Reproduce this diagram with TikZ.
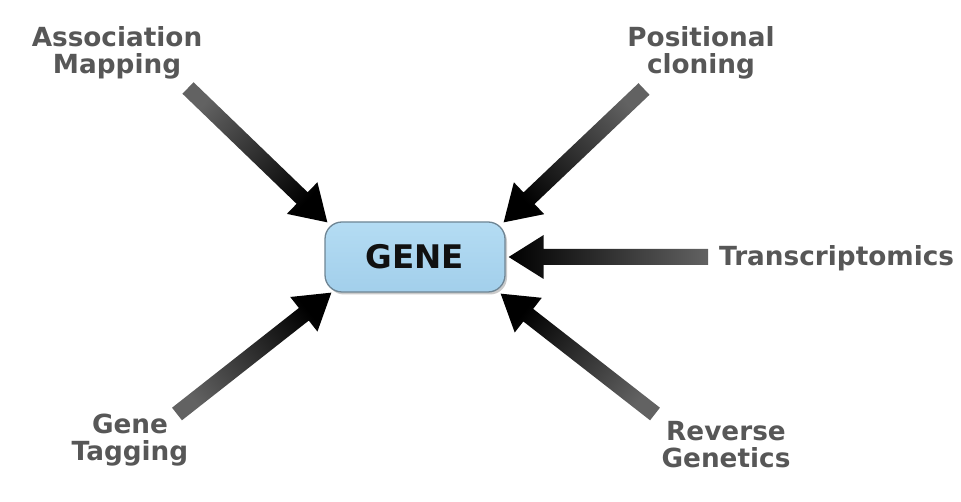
\documentclass[tikz,border=0pt]{standalone}
\usepackage{fontspec}
\setmainfont{DejaVu Sans}
\usetikzlibrary{calc,shadows}
\definecolor{labgray}{HTML}{575757}
\definecolor{genetop}{HTML}{B4DCF3}
\definecolor{genebot}{HTML}{A2CFEB}
\definecolor{geneedge}{HTML}{6E8594}
\definecolor{tailgray}{HTML}{626262}
\definecolor{genetext}{HTML}{111111}
\tikzset{
  lab/.style={font=\fontsize{26.3}{26.8}\selectfont\bfseries, text=labgray, align=center, inner sep=0pt},
  genebox/.style={draw=geneedge, line width=1.3pt, top color=genetop, bottom color=genebot,
    rounded corners=17pt, minimum width=180pt, minimum height=70pt, inner sep=0pt,
    font=\fontsize{32.5}{34}\selectfont\bfseries, text=genetext,
    drop shadow={shadow xshift=2pt, shadow yshift=-2.5pt, opacity=0.35, fill=black!60}},
}
% #1 tail, #2 tip, #3 shading angle
\newcommand\fatarrow[3]{%
  \coordinate (fab) at ($(#2)!35pt!(#1)$);
  \path[top color=tailgray, bottom color=black, shading angle=#3]
    ($(#1)!8pt!90:(#2)$) -- ($(fab)!8pt!90:(#2)$) -- ($(fab)!22pt!90:(#2)$) -- (#2)
    -- ($(fab)!22pt!-90:(#2)$) -- ($(fab)!8pt!-90:(#2)$) -- ($(#1)!8pt!-90:(#2)$) -- cycle;
}
\begin{document}
\begin{tikzpicture}[x=1pt,y=1pt]
\useasboundingbox (0,0) rectangle (961,502);
\node[genebox] (gene) at (415,245) {GENE};

\node[lab] (assoc) at (117,449) {Association\\Mapping};
\node[lab] (posit) at (701,449) {Positional\\cloning};
\node[lab, anchor=west] (trans) at (719,244) {Transcriptomics};
\node[lab] (tagg) at (130,62) {Gene\\Tagging};
\node[lab] (rever) at (726,57) {Reverse\\Genetics};

\coordinate (tUL) at (188,414);
\coordinate (tUR) at (644,413);
\coordinate (tLL) at (177,88);
\coordinate (tLR) at (655,88);
\coordinate (tR)  at (708,245);

\coordinate (pUL) at ([shift={(3,-1)}]gene.north west);
\coordinate (pUR) at ([shift={(-2,-1)}]gene.north east);
\coordinate (pLL) at ([shift={(7,0)}]gene.south west);
\coordinate (pLR) at ([shift={(-5,-1)}]gene.south east);
\coordinate (pR)  at ([shift={(3,0)}]gene.east);

\fatarrow{tUL}{pUL}{46.3}
\fatarrow{tUR}{pUR}{-46.5}
\fatarrow{tLL}{pLL}{128.2}
\fatarrow{tLR}{pLR}{232}
\fatarrow{tR}{pR}{270}
\end{tikzpicture}
\end{document}
